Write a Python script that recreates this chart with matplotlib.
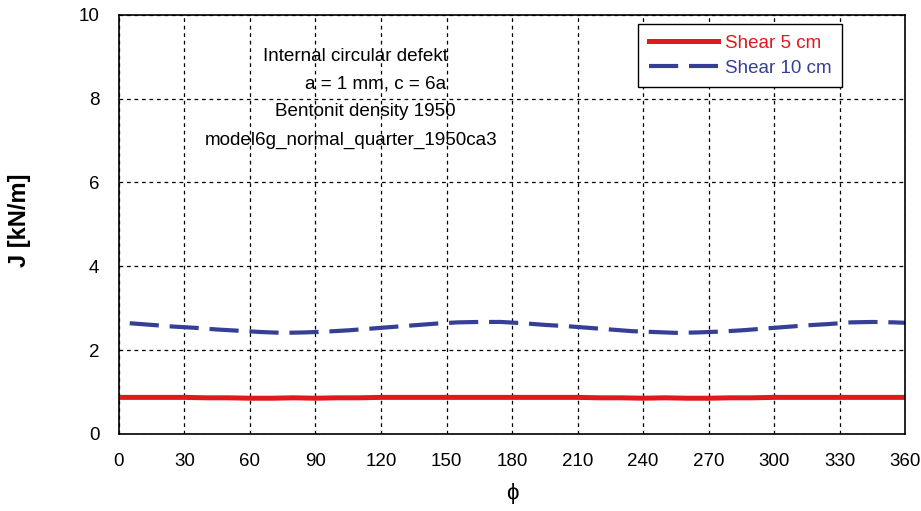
import matplotlib
matplotlib.use('Agg')
import matplotlib.pyplot as plt

plt.rcParams['font.family'] = ['Liberation Sans', 'DejaVu Sans']

# data
phi_5 = [0, 10, 20, 30, 40, 50, 60, 70, 80, 90, 100, 110, 120, 130, 140, 150, 160, 170, 180,
         190, 200, 210, 220, 230, 240, 250, 260, 270, 280, 290, 300, 310, 320, 330, 340, 350, 360]
J_5 = [0.87, 0.87, 0.87, 0.87, 0.86, 0.86, 0.85, 0.85, 0.86, 0.85, 0.86, 0.86, 0.87, 0.87, 0.87, 0.87, 0.87, 0.87, 0.87,
       0.87, 0.87, 0.87, 0.86, 0.86, 0.85, 0.86, 0.85, 0.85, 0.86, 0.86, 0.87, 0.87, 0.87, 0.87, 0.87, 0.87, 0.87]

phi_10 = [5, 15, 25, 35, 45, 55, 65, 75, 85, 95, 105, 115, 125, 135, 145, 155, 165, 175,
          185, 195, 205, 215, 225, 235, 245, 255, 265, 275, 285, 295, 305, 315, 325, 335, 345, 355, 360]
J_10 = [2.64, 2.60, 2.56, 2.53, 2.49, 2.46, 2.43, 2.41, 2.42, 2.44, 2.47, 2.51, 2.55, 2.59, 2.63, 2.66, 2.67, 2.67,
        2.64, 2.60, 2.57, 2.53, 2.49, 2.45, 2.43, 2.41, 2.42, 2.44, 2.47, 2.51, 2.55, 2.59, 2.62, 2.66, 2.67, 2.66, 2.65]

annotation = ['Internal circular defekt', 'a = 1 mm, c = 6a', 'Bentonit density 1950',
              'model6g_normal_quarter_1950ca3']

fig = plt.figure(figsize=(9.21, 5.11), dpi=100)
ax = fig.add_axes([0.129, 0.151, 0.854, 0.820])

ax.plot(phi_5, J_5, color='#e0191b', lw=3.6, label='Shear 5 cm')
blue, = ax.plot(phi_10, J_10, color='#363f96', lw=3.0, label='Shear 10 cm')
blue.set_dashes((7, 2.6))

ax.set_xlim(0, 360)
ax.set_ylim(0, 10)
ax.set_xticks(range(0, 361, 30))
ax.set_yticks(range(0, 11, 2))
ax.tick_params(length=0, pad=14, labelsize=13.5)
ax.grid(True, color='black', linestyle=(0, (3, 3)), linewidth=0.9)
for s in ax.spines.values():
    s.set_linewidth(1.2)

ax.set_xlabel('ϕ', fontsize=16, labelpad=9)
ax.set_ylabel('J [kN/m]', fontsize=17, fontweight='bold', labelpad=26)
ax.yaxis.set_label_coords(-0.112, 0.51)

# annotation block
xs = [0.301, 0.327, 0.314, 0.296]
ys = [0.900, 0.834, 0.769, 0.700]
for t, x, y in zip(annotation, xs, ys):
    ax.text(x, y, t, transform=ax.transAxes, ha='center', va='center', fontsize=13.6)

leg = ax.legend(loc='upper right', bbox_to_anchor=(0.920, 0.977), fontsize=13.5, frameon=True,
                fancybox=False, edgecolor='black', framealpha=1, borderpad=0.55,
                handlelength=3.7, labelspacing=0.42, handletextpad=0.4, borderaxespad=0)
leg.get_frame().set_linewidth(1.0)
for txt, c in zip(leg.get_texts(), ['#e0191b', '#363f96']):
    txt.set_color(c)

plt.savefig('out.png', dpi=100)
